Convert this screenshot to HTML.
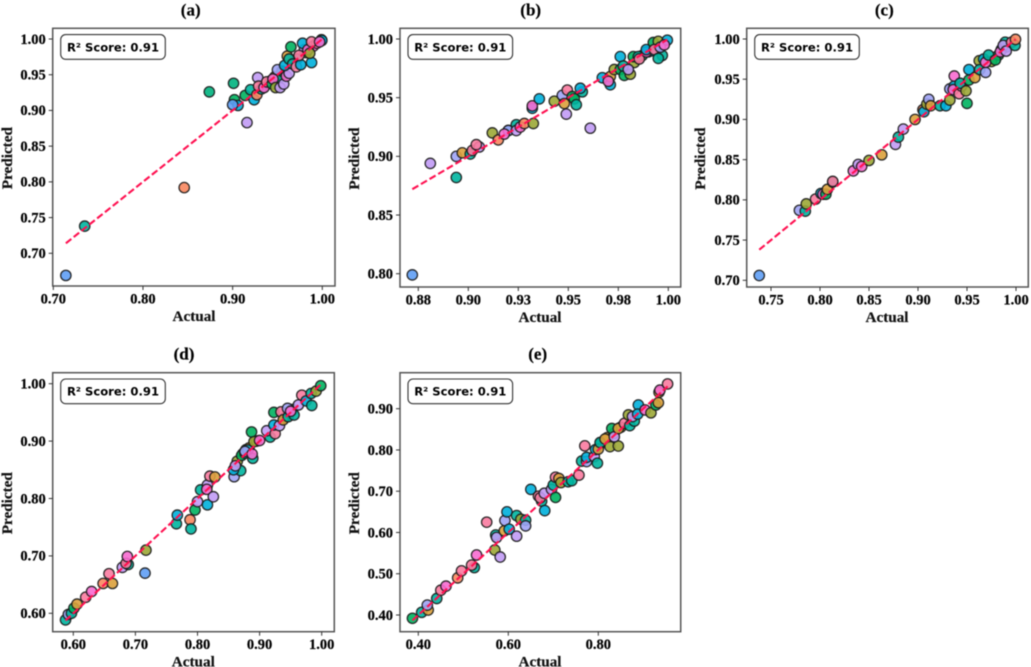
<!DOCTYPE html>
<html>
<head>
<meta charset="utf-8">
<title>Actual vs Predicted scatter panels</title>
<style>
html,body{margin:0;padding:0;background:#fff;width:1031px;height:667px;overflow:hidden}
svg{display:block;filter:blur(0.5px)}
.tick{font:bold 14.5px "Liberation Serif",serif;fill:#000;stroke:#000;stroke-width:.2px}
.axis{font:bold 15.2px "Liberation Serif",serif;fill:#111;stroke:#111;stroke-width:.2px}
.title{font:bold 17px "Liberation Serif",serif;fill:#000;stroke:#000;stroke-width:.2px}
.r2{font:bold 11.6px "DejaVu Sans",sans-serif;fill:#000}
</style>
</head>
<body>
<svg id="figure" width="1031" height="667" viewBox="0 0 1031 667" xmlns="http://www.w3.org/2000/svg"></svg>
<script>
const palette = ['#5F9FF5','#00B5A0','#F8875F','#00B35F','#C19BF5','#F76BD0','#FA7BA0','#9CA836','#DBA13C','#00B0DC','#9FA3F5','#00B27E'];

const actualA = [.934,.942,.947,.951,.955,.968,.972,.982,.990,.994,.980,.714,.735,.846,.874,.901,.916,.902,.906,.900,.914,.920,.924,.927,.932,.928,.929,.935,.938,.944,.945,.948,.953,.950,.957,.960,.963,.958,.961,.963,.965,.967,.971,.976,.974,.978,.988,.984,.986,.988,.999,.9995,.997];
const predictedA = [.932,.941,.947,.945,.955,.970,.972,.981,.990,.994,.985,.669,.738,.792,.926,.938,.883,.915,.907,.908,.921,.929,.915,.922,.930,.946,.934,.932,.940,.937,.944,.932,.932,.957,.937,.948,.952,.963,.976,.972,.989,.965,.961,.964,.977,.994,.967,.985,.980,.996,.999,.998,.996];
const colorsA = [7,1,7,1,3,7,1,7,5,6,4,0,1,2,11,11,4,3,9,0,3,1,9,2,1,4,6,5,6,3,5,7,4,10,4,5,4,9,8,1,3,1,6,9,6,9,9,5,7,6,1,9,5];

const actualB = [.983,.987,.990,.992,.872,.881,.894,.894,.897,.901,.902,.9055,.904,.912,.915,.920,.920,.918,.924,.924,.926,.928,.9325,.932,.932,.9355,.943,.947,.948,.949,.9495,.952,.953,.954,.957,.956,.961,.967,.971,.971,.970,.973,.976,.976,.978,.9775,.981,.980,.9825,.985,.9855,.989,.989,.9925,.995,.993,.997,.995,.996,.9995,.998];
const predictedB = [.980,.986,.989,.990,.799,.894,.882,.900,.903,.902,.905,.908,.910,.920,.914,.922,.922,.919,.927,.922,.925,.928,.928,.941,.943,.949,.947,.952,.945,.936,.9565,.951,.949,.944,.955,.958,.924,.967,.961,.968,.964,.974,.974,.985,.969,.977,.970,.974,.985,.985,.983,.989,.991,.997,.998,.991,.986,.9835,.993,.999,.995];
const colorsB = [7,3,1,9,0,4,1,10,8,1,6,4,6,7,2,9,10,5,1,4,5,2,7,9,5,9,7,10,8,4,6,3,3,1,1,9,4,9,9,8,5,7,3,9,3,1,7,4,3,1,6,5,9,3,7,6,1,1,10,9,5];

const actualC = [.935,.975,.982,.990,.738,.779,.785,.786,.7955,.801,.803,.806,.8075,.813,.813,.834,.839,.8425,.850,.863,.877,.880,.885,.897,.905,.906,.909,.911,.913,.9225,.9285,.9325,.9325,.937,.937,.936,.942,.9445,.943,.949,.950,.952,.952,.958,.9625,.963,.967,.969,.969,.972,.979,.985,.984,.989,.987,.990,.9955,.999,.9995];
const predictedC = [.938,.972,.980,.990,.706,.787,.786,.795,.801,.808,.807,.807,.813,.822,.823,.836,.844,.8415,.849,.856,.869,.878,.888,.900,.912,.9095,.919,.925,.917,.917,.917,.924,.938,.9415,.954,.937,.932,.9415,.945,.9355,.920,.949,.962,.952,.973,.962,.975,.9585,.971,.980,.974,.987,.984,.996,.992,.985,.996,.992,.9995];
const colorsC = [7,7,3,9,0,10,1,7,6,9,5,3,8,1,6,5,4,5,7,8,4,1,4,8,2,9,7,10,8,1,9,7,10,9,5,5,6,5,1,7,3,3,9,8,7,1,9,10,5,1,3,9,5,1,4,4,6,1,2];

const actualD = [.873,.878,.883,.895,.940,.953,.5875,.592,.597,.601,.606,.620,.6295,.648,.663,.6575,.679,.6885,.685,.687,.7155,.717,.766,.7675,.788,.7895,.796,.800,.805,.816,.816,.815,.8255,.820,.828,.859,.8695,.858,.864,.861,.871,.8765,.881,.8765,.887,.889,.888,.891,.900,.917,.9115,.925,.923,.932,.923,.9345,.938,.946,.9555,.945,.950,.9625,.968,.975,.983,.984,.991,.9985];
const predictedD = [.878,.885,.888,.900,.940,.955,.5885,.598,.600,.609,.616,.628,.638,.652,.652,.669,.680,.685,.687,.699,.670,.710,.756,.771,.763,.747,.780,.7945,.815,.789,.8235,.816,.803,.839,.8375,.838,.8485,.850,.865,.857,.875,.879,.8845,.882,.916,.870,.8775,.899,.901,.907,.918,.913,.928,.927,.950,.951,.937,.9425,.9455,.957,.952,.963,.980,.970,.983,.962,.987,.9965];
const colorsD = [7,1,8,7,1,3,1,10,1,3,8,6,5,2,8,6,4,1,6,5,0,7,1,9,2,1,3,4,1,9,4,5,4,6,8,10,1,9,7,4,3,1,9,10,3,1,5,7,5,1,4,6,9,4,3,6,8,1,1,10,5,4,6,9,1,1,7,3];

const actualE = [.805,.820,.835,.850,.387,.4075,.422,.420,.441,.450,.4615,.4875,.496,.5245,.5185,.5295,.552,.570,.572,.574,.582,.591,.5925,.597,.602,.6185,.6185,.628,.6385,.6385,.650,.667,.674,.671,.681,.680,.696,.700,.705,.705,.7125,.717,.733,.741,.757,.763,.770,.774,.774,.791,.798,.794,.800,.804,.815,.826,.8445,.830,.8355,.8445,.858,.867,.870,.880,.876,.889,.8875,.904,.917,.928,.9335,.935,.937,.954];
const predictedE = [.815,.830,.840,.855,.392,.4065,.412,.424,.440,.460,.470,.490,.507,.515,.521,.5455,.625,.5575,.594,.588,.5405,.604,.629,.650,.608,.591,.641,.632,.630,.616,.7045,.688,.676,.684,.653,.695,.7045,.715,.685,.734,.731,.721,.723,.7255,.739,.773,.810,.772,.782,.784,.768,.801,.802,.818,.8265,.808,.8095,.852,.832,.852,.8645,.885,.859,.870,.881,.909,.887,.897,.890,.909,.9145,.940,.945,.960];
const colorsE = [1,8,8,7,3,1,8,10,1,6,5,2,6,1,6,5,6,7,1,4,4,8,10,9,9,4,1,7,1,10,9,6,1,6,9,4,4,1,3,6,8,7,1,1,6,1,6,10,9,4,1,9,8,1,8,7,7,3,4,8,6,7,1,1,4,9,9,5,7,3,8,8,5,6];

const xTickValuesA = [.7,.8,.9,1];
const xTickLabelsA = ['0.70','0.80','0.90','1.00'];
const yTickValuesA = [.7,.75,.8,.85,.9,.95,1];
const yTickLabelsA = ['0.70','0.75','0.80','0.85','0.90','0.95','1.00'];
const xTickValuesB = [.875,.9,.925,.95,.975,1];
const xTickLabelsB = ['0.88','0.90','0.93','0.95','0.98','1.00'];
const yTickValuesB = [.8,.85,.9,.95,1];
const yTickLabelsB = ['0.80','0.85','0.90','0.95','1.00'];
const xTickValuesC = [.75,.8,.85,.9,.95,1];
const xTickLabelsC = ['0.75','0.80','0.85','0.90','0.95','1.00'];
const yTickValuesC = [.7,.75,.8,.85,.9,.95,1];
const yTickLabelsC = ['0.70','0.75','0.80','0.85','0.90','0.95','1.00'];
const xTickValuesD = [.6,.7,.8,.9,1];
const xTickLabelsD = ['0.60','0.70','0.80','0.90','1.00'];
const yTickValuesD = [.6,.7,.8,.9,1];
const yTickLabelsD = ['0.60','0.70','0.80','0.90','1.00'];
const xTickValuesE = [.4,.6,.8];
const xTickLabelsE = ['0.40','0.60','0.80'];
const yTickValuesE = [.4,.5,.6,.7,.8,.9];
const yTickLabelsE = ['0.40','0.50','0.60','0.70','0.80','0.90'];

const NS = 'http://www.w3.org/2000/svg';
const fig = document.getElementById('figure');

function make(parent, tag, attrs, text) {
  const el = document.createElementNS(NS, tag);
  for (const k in attrs) el.setAttribute(k, attrs[k]);
  if (text !== undefined) el.textContent = text;
  parent.appendChild(el);
  return el;
}
function scale(v0, p0, v1, p1) {
  return v => p0 + (v - v0) * (p1 - p0) / (v1 - v0);
}

function drawPanel(o) {
  const X = scale(o.xCal[0], o.xCal[1], o.xCal[2], o.xCal[3]);
  const Y = scale(o.yCal[0], o.yCal[1], o.yCal[2], o.yCal[3]);
  const g = make(fig, 'g', {});
  
  

  const title = make(g, 'text', {x: o.titleX, y: o.box[1] - 13, 'text-anchor': 'middle', class: 'title'}, '(' + o.id + ')');
  
  

  const frame = make(g, 'rect', {x: o.box[0], y: o.box[1], width: o.box[2] - o.box[0], height: o.box[3] - o.box[1], fill: '#fff', stroke: '#555', 'stroke-width': 1.5});
  
  

  o.xTicks.forEach((v, i) => {
    const px = X(v);
    const mark = make(g, 'line', {x1: px, x2: px, y1: o.box[3], y2: o.box[3] + 4, stroke: '#333', 'stroke-width': 1});
    
    
    const label = make(g, 'text', {x: px, y: o.box[3] + 17.5, 'text-anchor': 'middle', class: 'tick'}, o.xLabels[i]);
    
    
  });
  o.yTicks.forEach((v, i) => {
    const py = Y(v);
    const mark = make(g, 'line', {x1: o.box[0] - 4, x2: o.box[0], y1: py, y2: py, stroke: '#333', 'stroke-width': 1});
    
    
    const label = make(g, 'text', {x: o.box[0] - 7, y: py + 4.8, 'text-anchor': 'end', class: 'tick'}, o.yLabels[i]);
    
    
  });

  const xt = make(g, 'text', {x: o.xLabelX, y: o.box[3] + 35, 'text-anchor': 'middle', class: 'axis'}, 'Actual');
  
  
  const yc = (o.box[1] + o.box[3]) / 2 + 1;
  const yt = make(g, 'text', {transform: 'translate(' + o.yLabelX + ',' + yc + ') rotate(-90)', 'text-anchor': 'middle', class: 'axis'}, 'Predicted');
  
  

  o.actual.forEach((a, i) => {
    const c = palette[o.colors[i] === undefined ? i % palette.length : o.colors[i]];
    const dot = make(g, 'circle', {cx: X(a), cy: Y(o.predicted[i]), r: 5.2, fill: c, 'fill-opacity': 0.9, stroke: '#1a1a1a', 'stroke-width': 1.3, 'stroke-opacity': 0.9});
    
    
  });

  const lo = Math.min(...o.actual), hi = Math.max(...o.actual);
  const fit = make(g, 'line', {x1: X(lo), y1: Y(lo), x2: X(hi), y2: Y(hi), stroke: '#FF1050', 'stroke-width': 2.1, 'stroke-dasharray': '7 3'});
  
  

  const bx = o.box[0] + 8, by = o.box[1] + 6.3;
  const badge = make(g, 'rect', {x: bx, y: by, width: 104.6, height: 24.7, rx: 5, ry: 5, fill: '#fff', stroke: '#333', 'stroke-width': 1.1});
  
  
  const r2 = make(g, 'text', {x: bx + 52.3, y: by + 16.7, 'text-anchor': 'middle', class: 'r2'}, 'R\u00B2 Score: 0.91');
  
  
}

drawPanel({id:'a', box:[52.7,28.3,335,286], xCal:[.7,53.3,1,322.3], yCal:[.7,253.3,1,39], titleX:190.7, xLabelX:194, yLabelX:12, actual:actualA, predicted:predictedA, colors:colorsA, xTicks:xTickValuesA, xLabels:xTickLabelsA, yTicks:yTickValuesA, yLabels:yTickLabelsA});
drawPanel({id:'b', box:[400,28.3,680.7,287], xCal:[.9,468.3,1,668.3], yCal:[.8,273.7,1,39], titleX:530.7, xLabelX:540, yLabelX:359, actual:actualB, predicted:predictedB, colors:colorsB, xTicks:xTickValuesB, xLabels:xTickLabelsB, yTicks:yTickValuesB, yLabels:yTickLabelsB});
drawPanel({id:'c', box:[746.7,28.3,1028.3,287], xCal:[.8,820,1,1016], yCal:[.7,280.3,1,39], titleX:884.3, xLabelX:887, yLabelX:705, actual:actualC, predicted:predictedC, colors:colorsC, xTicks:xTickValuesC, xLabels:xTickLabelsC, yTicks:yTickValuesC, yLabels:yTickLabelsC});
drawPanel({id:'d', box:[52.7,372.7,334.3,631.7], xCal:[.6,73.3,1,321.7], yCal:[.6,613.3,1,383.7], titleX:184, xLabelX:193.3, yLabelX:12, actual:actualD, predicted:predictedD, colors:colorsD, xTicks:xTickValuesD, xLabels:xTickLabelsD, yTicks:yTickValuesD, yLabels:yTickLabelsD});
drawPanel({id:'e', box:[400,372.7,680.7,631.7], xCal:[.4,418.3,.8,598.3], yCal:[.4,615,.9,408.7], titleX:537.7, xLabelX:540, yLabelX:359, actual:actualE, predicted:predictedE, colors:colorsE, xTicks:xTickValuesE, xLabels:xTickLabelsE, yTicks:yTickValuesE, yLabels:yTickLabelsE});
</script>
</body>
</html>
